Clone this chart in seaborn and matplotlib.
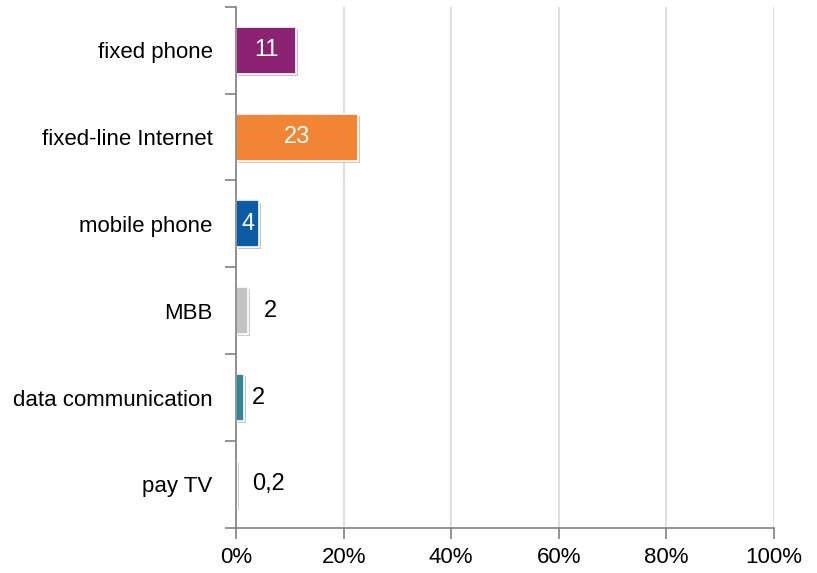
import matplotlib
matplotlib.use("Agg")
import matplotlib.pyplot as plt
import matplotlib.patheffects as pe
import seaborn as sns
import pandas as pd
import numpy as np

categories = ["fixed phone", "fixed-line Internet", "mobile phone", "MBB",
              "data communication", "pay TV"]
values = [11.2, 22.7, 4.3, 2.2, 1.5, 0.2]
labels = ["11", "23", "4", "2", "2", "0,2"]
colors = ["#8B2372", "#F28533", "#0B5CA5", "#C3C3C3", "#31869B", "#F7F7F7"]
inside = [True, True, True, False, False, False]
label_pad = [0, 0, 0, 11.5, 5.5, 11]
xticks = [0, 20, 40, 60, 80, 100]

sns.set_theme(style="white")
plt.rcParams["font.family"] = ["Liberation Sans", "DejaVu Sans"]
plt.rcParams["text.color"] = "black"
plt.rcParams["xtick.color"] = "black"
plt.rcParams["ytick.color"] = "black"

df = pd.DataFrame({"category": categories, "value": values})

fig = plt.figure(figsize=(8.17, 5.73), dpi=100)
ax = fig.add_axes([0.289, 0.079, 0.658, 0.909])

sns.barplot(data=df, x="value", y="category", hue="category", palette=colors,
            saturation=1, legend=False, width=0.54, ax=ax, edgecolor="white", linewidth=1.2)

for p in ax.patches:
    p.set_path_effects([pe.SimplePatchShadow(offset=(1.5, -1.5), alpha=0.25), pe.Normal()])

for i, cont in enumerate(ax.containers):
    if inside[i]:
        ax.bar_label(cont, labels=[labels[i]], label_type="center", color="white", fontsize=17)
    else:
        ax.bar_label(cont, labels=[labels[i]], padding=label_pad[i], color="black", fontsize=17)

ax.set_xlim(0, 100)
ax.set_ylim(5.5, -0.5)
ax.set_xticks(xticks)
ax.set_xticklabels([f"{t}%" for t in xticks], fontsize=16)
ax.set_yticks(range(len(categories)))
ax.set_yticklabels(categories, fontsize=16)
ax.set_yticks(np.arange(-0.5, 6, 1), minor=True)
ax.tick_params(axis="y", which="major", length=0, pad=17)
ax.tick_params(axis="y", which="minor", length=8, width=1.2, color="#808080", direction="out", left=True)
ax.tick_params(axis="x", length=8, width=1.2, color="#808080", labelcolor="black", direction="out", bottom=True, pad=6)
ax.set_xlabel("")
ax.set_ylabel("")

ax.grid(axis="x", color="#D9D9D9", linewidth=1.2)
ax.set_axisbelow(True)
for s in ["top", "right"]:
    ax.spines[s].set_visible(False)
for s in ["left", "bottom"]:
    ax.spines[s].set_color("#808080")
    ax.spines[s].set_linewidth(1.2)

fig.savefig("out.png", dpi=100)
